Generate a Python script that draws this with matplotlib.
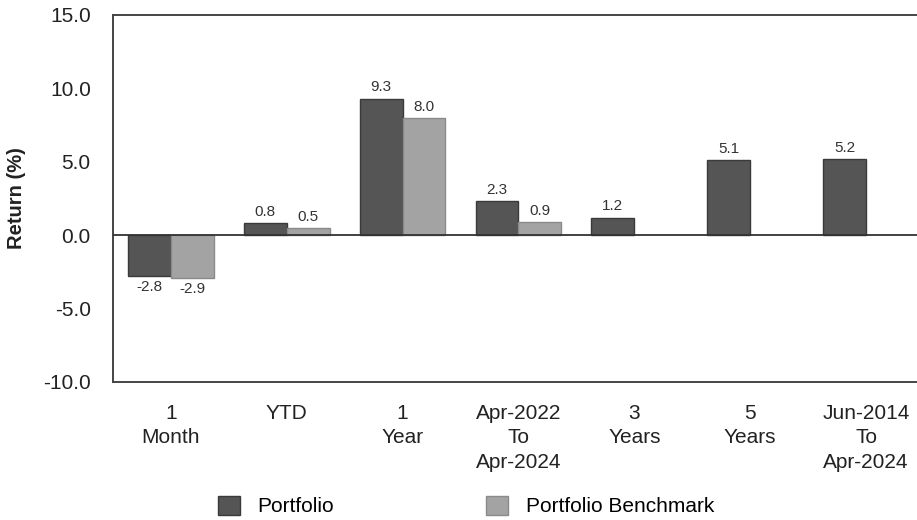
import numpy as np
import matplotlib.pyplot as plt

plt.rcParams['font.family'] = ['Liberation Sans', 'DejaVu Sans']

# data
categories = ["1\nMonth", "YTD", "1\nYear", "Apr-2022\nTo\nApr-2024",
              "3\nYears", "5\nYears", "Jun-2014\nTo\nApr-2024"]
portfolio = [-2.8, 0.8, 9.3, 2.3, 1.2, 5.1, 5.2]
benchmark = [-2.9, 0.5, 8.0, 0.9, None, None, None]
series_names = ["Portfolio", "Portfolio Benchmark"]
yticks = [-10.0, -5.0, 0.0, 5.0, 10.0, 15.0]

fig = plt.figure(figsize=(9.17, 5.2), dpi=100)
ax = fig.add_axes([0.1232, 0.2654, 0.8844, 0.7058])

x = np.arange(len(categories))
w = 0.37
dark = "#555555"
light = "#a3a3a3"

b1 = ax.bar(x - w / 2, portfolio, w, color=dark, edgecolor="#3a3a3a", linewidth=1.0,
            label=series_names[0])
bx = [i for i, v in enumerate(benchmark) if v is not None]
bv = [v for v in benchmark if v is not None]
b2 = ax.bar(np.array(bx) + w / 2, bv, w, color=light, edgecolor="#8a8a8a", linewidth=1.0,
            label=series_names[1])

for bars in (b1, b2):
    for rect in bars:
        h = rect.get_height()
        if h >= 0:
            ax.annotate(f"{h:.1f}", (rect.get_x() + rect.get_width() / 2, h),
                        xytext=(0, 3), textcoords="offset points",
                        ha="center", va="bottom", fontsize=11, color="#333333")
        else:
            ax.annotate(f"{h:.1f}", (rect.get_x() + rect.get_width() / 2, h),
                        xytext=(0, -3), textcoords="offset points",
                        ha="center", va="top", fontsize=11, color="#333333")

ax.axhline(0, color="#333333", linewidth=1.3, zorder=3)

ax.set_xlim(-0.5, 6.5)
ax.set_ylim(-10, 15)
ax.set_yticks(yticks)
ax.set_yticklabels([f"{t:.1f}" for t in yticks])
ax.set_xticks(x)
ax.set_xticklabels(categories, linespacing=1.35)
ax.tick_params(axis="y", length=0, pad=16, labelsize=15, labelcolor="#222222")
ax.tick_params(axis="x", length=0, pad=16, labelsize=15, labelcolor="#222222")
ax.set_ylabel("Return (%)", fontsize=14.5, fontweight="bold", color="#222222", labelpad=12)

for side in ("left", "top", "bottom"):
    ax.spines[side].set_color("#444444")
    ax.spines[side].set_linewidth(1.4)
ax.spines["right"].set_visible(False)

leg = fig.legend(handles=[b1, b2], labels=series_names, loc="center left",
                 bbox_to_anchor=(218 / 917, 14 / 520), ncol=2, frameon=False, fontsize=15,
                 handlelength=1.05, handleheight=1.05, columnspacing=7.3, handletextpad=0.85,
                 borderpad=0, borderaxespad=0)

fig.savefig("out.png", dpi=100)
